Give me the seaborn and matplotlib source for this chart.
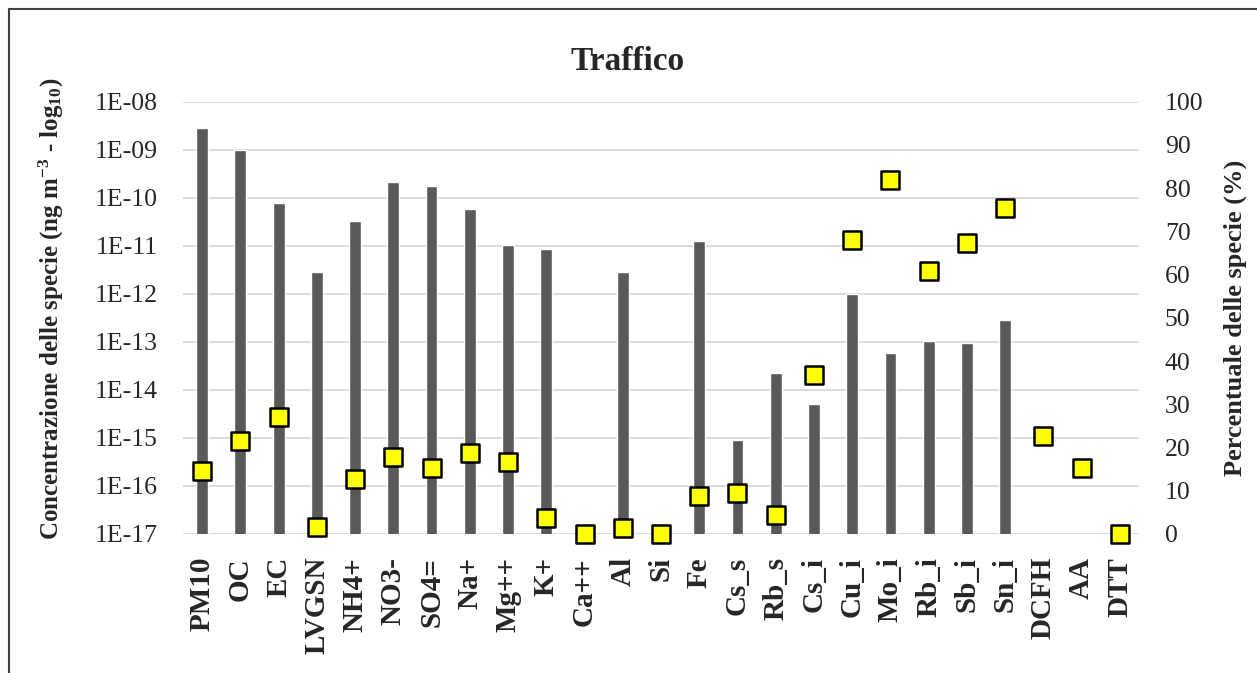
import numpy as np
import pandas as pd
import matplotlib
matplotlib.use("Agg")
import matplotlib.pyplot as plt
from matplotlib.lines import Line2D
import seaborn as sns

categories = ["PM10", "OC", "EC", "LVGSN", "NH4+", "NO3-", "SO4=", "Na+", "Mg++", "K+",
              "Ca++", "Al", "Si", "Fe", "Cs_s", "Rb_s", "Cs_i", "Cu_i", "Mo_i", "Rb_i",
              "Sb_i", "Sn_i", "DCFH", "AA", "DTT"]
concentration = [2.8e-9, 1.0e-9, 7.9e-11, 2.9e-12, 3.3e-11, 2.1e-10, 1.8e-10, 5.8e-11, 1.03e-11, 8.5e-12,
                 np.nan, 2.9e-12, np.nan, 1.27e-11, 8.9e-16, 2.2e-14, 5.0e-15, 1.0e-12, 5.8e-14, 1.05e-13,
                 9.6e-14, 2.9e-13, np.nan, np.nan, np.nan]
percentage = [14.6, 21.5, 27.1, 1.7, 12.7, 17.7, 15.2, 18.7, 16.7, 3.8,
              0.0, 1.3, 0.0, 8.8, 9.4, 4.4, 36.8, 67.9, 81.9, 60.8,
              67.4, 75.5, 22.7, 15.2, 0.0]
left_ticks = [1e-17, 1e-16, 1e-15, 1e-14, 1e-13, 1e-12, 1e-11, 1e-10, 1e-9, 1e-8]
left_tick_labels = ["1E-17", "1E-16", "1E-15", "1E-14", "1E-13", "1E-12", "1E-11", "1E-10", "1E-09", "1E-08"]
right_ticks = [0, 10, 20, 30, 40, 50, 60, 70, 80, 90, 100]
title = "Traffico"
left_title = "Concentrazione delle specie (ng m$^{-3}$ - log$_{10}$)"
right_title = "Percentuale delle specie (%)"

sns.set_style("white")
plt.rcParams["font.family"] = ["Liberation Serif", "DejaVu Serif"]
plt.rcParams["mathtext.default"] = "regular"

W, H = 1257, 673
fig = plt.figure(figsize=(W / 100, H / 100), dpi=100)
ax = fig.add_axes([183 / W, 1 - 534 / H, (1139 - 183) / W, (534 - 101.7) / H])

ax.set_yscale("log")
df = pd.DataFrame({"species": categories, "conc": concentration})
sns.barplot(data=df, x="species", y="conc", order=categories, color="#595959",
            saturation=1, width=0.31, ax=ax, zorder=2)
ax.set_ylim(1e-17, 1e-8)
ax.set_xlim(-0.5, len(categories) - 0.5)
ax.set_yticks(left_ticks)
ax.set_yticklabels(left_tick_labels)
ax.yaxis.set_minor_locator(matplotlib.ticker.NullLocator())
ax.grid(axis="y", color="#d9d9d9", linewidth=1.3, zorder=0)
ax.set_axisbelow(True)
for s in ax.spines.values():
    s.set_visible(False)
ax.tick_params(axis="both", length=0)
ax.tick_params(axis="y", labelsize=18.5, pad=18, colors="#262626")
ax.tick_params(axis="x", labelsize=21, pad=16.5, rotation=90)
for lbl in ax.get_xticklabels():
    lbl.set_fontweight("bold")
ax.set_xlabel("")
ax.set_ylabel(left_title, fontsize=18, fontweight="bold")
ax.yaxis.set_label_coords((66 - 183) / 956, (534 - 309) / 432.3)

ax2 = ax.twinx()
pdf = pd.DataFrame({"pos": np.arange(len(categories)), "pct": percentage})
sns.scatterplot(data=pdf, x="pos", y="pct", marker="s", s=160, color="#ffff00",
                edgecolor="black", linewidth=1.8, ax=ax2, zorder=5)
for coll in ax2.collections:
    coll.set_clip_on(False)
ax2.set_ylim(0, 100)
ax2.set_yticks(right_ticks)
ax2.set_xlim(-0.5, len(categories) - 0.5)
for s in ax2.spines.values():
    s.set_visible(False)
ax2.tick_params(axis="y", length=0, labelsize=18.5, pad=18.7, colors="#262626")
ax2.set_ylabel(right_title, fontsize=19, fontweight="bold")
ax2.yaxis.set_label_coords((1224 - 183) / 956, (534 - 318) / 432.3)
ax2.set_xlabel("")

fig.text(628 / W, 1 - 62 / H, title, ha="center", va="center", fontsize=24, fontweight="bold")

fig.add_artist(Line2D([9 / W, 9 / W], [0, 1 - 9 / H], color="#404040", linewidth=1.5))
fig.add_artist(Line2D([9 / W, 1], [1 - 9 / H, 1 - 9 / H], color="#404040", linewidth=1.5))

fig.savefig("out.png", dpi=100)
